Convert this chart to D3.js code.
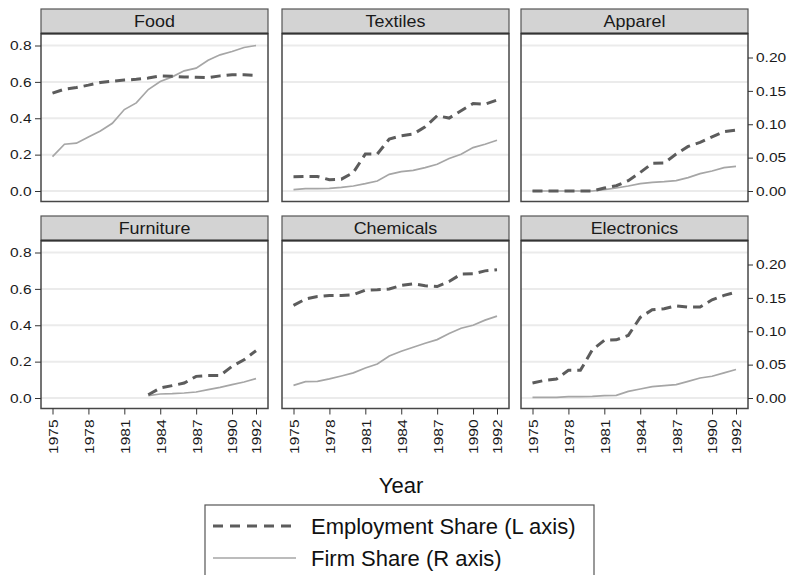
<!DOCTYPE html>
<html><head><meta charset="utf-8">
<script src="https://cdn.jsdelivr.net/npm/d3@7"></script>
<style>body{margin:0;background:#fff}svg{display:block}</style>
</head><body>
<svg id="chart" width="791" height="575"></svg>
<script>
const years = d3.range(1975, 1993);
const panels = ["Food","Textiles","Apparel","Furniture","Chemicals","Electronics"];
const leftTicks = [0, 0.2, 0.4, 0.6, 0.8];
const rightTicks = [0, 0.05, 0.10, 0.15, 0.20];
const xTicks = [1975, 1978, 1981, 1984, 1987, 1990, 1992];

// Employment share (left axis), 1975..1992 (null = missing)
const empFood = [0.538,0.56,0.569,0.582,0.597,0.604,0.61,0.614,0.621,0.633,0.631,0.627,0.625,0.623,0.633,0.639,0.639,0.636];
const empTextiles = [0.079,0.08,0.08,0.062,0.065,0.102,0.203,0.203,0.286,0.304,0.313,0.353,0.414,0.401,0.441,0.481,0.477,0.5];
const empApparel = [0,0,0,0,0,0,0.016,0.029,0.057,0.102,0.152,0.154,0.203,0.245,0.267,0.298,0.327,0.335];
const empFurniture = [null,null,null,null,null,null,null,null,0.018,0.055,0.068,0.082,0.119,0.124,0.124,0.174,0.21,0.26];
const empChemicals = [0.509,0.544,0.558,0.564,0.564,0.568,0.593,0.595,0.599,0.619,0.628,0.617,0.613,0.641,0.681,0.683,0.699,0.705];
const empElectronics = [0.082,0.097,0.104,0.152,0.152,0.265,0.317,0.32,0.344,0.443,0.485,0.491,0.507,0.5,0.5,0.54,0.564,0.582];

// Firm share (right axis)
const firmFood = [0.0516,0.070,0.0716,0.081,0.090,0.1015,0.122,0.132,0.152,0.164,0.171,0.180,0.184,0.196,0.204,0.209,0.215,0.218];
const firmTextiles = [0.002,0.0035,0.0035,0.004,0.0055,0.0075,0.011,0.015,0.025,0.029,0.031,0.035,0.040,0.0487,0.055,0.065,0.070,0.076];
const firmApparel = [0,0,0,0,0,0,0.002,0.0045,0.0075,0.011,0.013,0.014,0.0155,0.020,0.026,0.030,0.035,0.037];
const firmFurniture = [null,null,null,null,null,null,null,null,0.0035,0.006,0.0065,0.0075,0.009,0.0125,0.016,0.020,0.024,0.029];
const firmChemicals = [0.019,0.0246,0.025,0.0287,0.033,0.0377,0.045,0.051,0.063,0.070,0.076,0.082,0.0875,0.0965,0.1045,0.109,0.1166,0.1226];
const firmElectronics = [0.001,0.001,0.001,0.002,0.002,0.0025,0.0035,0.004,0.010,0.0135,0.017,0.0185,0.020,0.025,0.030,0.0326,0.0377,0.0427];

const empSeries = [empFood, empTextiles, empApparel, empFurniture, empChemicals, empElectronics];
const firmSeries = [firmFood, firmTextiles, firmApparel, firmFurniture, firmChemicals, firmElectronics];

const svg = d3.select("#chart");
const colX = [41, 282, 521];
const rowTop = [9, 216];
const W = 227, headH = 24.5, plotH = 168;
const font = "'Liberation Sans', Arial, Helvetica, sans-serif";
const TS = 1.15; // horizontal stretch of tick labels
const HS = 1.1;  // horizontal stretch of panel titles

panels.forEach((name, i) => {
  const col = i % 3, row = Math.floor(i / 3);
  const x0 = colX[col], top = rowTop[row];
  const pTop = top + headH, pBot = pTop + plotH;
  const g = svg.append("g");

  const x = d3.scaleLinear().domain([1975, 1992]).range([x0 + 11.5, x0 + 215]);
  const yL = d3.scaleLinear().domain([0, 0.8]).range([pBot - 10.5, pBot - 10.5 - 145.5]);
  const yR = d3.scaleLinear().domain([0, 0.2]).range([pBot - 10.5, pBot - 10.5 - 133.5]);

  g.selectAll(".grid").data(leftTicks).join("line")
    .attr("x1", x0).attr("x2", x0 + W)
    .attr("y1", d => yL(d)).attr("y2", d => yL(d))
    .attr("stroke", "#ebebeb").attr("stroke-width", 2);

  const lineE = d3.line().defined(d => d[1] != null).x(d => x(d[0])).y(d => yL(d[1]));
  const lineF = d3.line().defined(d => d[1] != null).x(d => x(d[0])).y(d => yR(d[1]));

  g.append("path").datum(years.map((yr, k) => [yr, firmSeries[i][k]]))
    .attr("d", lineF).attr("fill", "none").attr("stroke", "#a6a6a6").attr("stroke-width", 1.7);
  g.append("path").datum(years.map((yr, k) => [yr, empSeries[i][k]]))
    .attr("d", lineE).attr("fill", "none").attr("stroke", "#5c5c5c").attr("stroke-width", 3)
    .attr("stroke-dasharray", "10,6");

  g.append("rect").attr("x", x0).attr("y", pTop).attr("width", W).attr("height", plotH)
    .attr("fill", "none").attr("stroke", "#474747").attr("stroke-width", 1.5);
  g.append("rect").attr("x", x0).attr("y", top).attr("width", W).attr("height", headH)
    .attr("fill", "#d3d3d3").attr("stroke", "#555").attr("stroke-width", 1.2);
  g.append("line").attr("x1", x0).attr("x2", x0 + W).attr("y1", pTop).attr("y2", pTop)
    .attr("stroke", "#333").attr("stroke-width", 2);
  g.append("text").attr("transform", `scale(${HS},1)`)
    .attr("x", (x0 + W / 2) / HS).attr("y", top + 18)
    .attr("text-anchor", "middle").attr("font-family", font).attr("font-size", 16.3)
    .attr("fill", "#1a1a1a").text(name);

  if (col === 0) {
    const ax = g.append("g").attr("transform", `translate(${x0},0)`)
      .call(d3.axisLeft(yL).tickValues(leftTicks).tickFormat(d3.format(".1f")).tickSize(6).tickPadding(3));
    ax.select(".domain").remove();
    ax.selectAll("line").attr("stroke", "#333");
    ax.selectAll("text").attr("font-family", font).attr("font-size", 13.5).attr("fill", "#1a1a1a")
      .attr("transform", `scale(${TS},1)`).attr("x", -9.5 / TS);
  }
  if (col === 2) {
    const ax = g.append("g").attr("transform", `translate(${x0 + W},0)`)
      .call(d3.axisRight(yR).tickValues(rightTicks).tickFormat(d3.format(".2f")).tickSize(5).tickPadding(3));
    ax.select(".domain").remove();
    ax.selectAll("line").attr("stroke", "#333");
    ax.selectAll("text").attr("font-family", font).attr("font-size", 13.5).attr("fill", "#1a1a1a")
      .attr("transform", `scale(${TS},1)`).attr("x", 8 / TS);
  }
  if (row === 1) {
    const ax = g.append("g").attr("transform", `translate(0,${pBot})`)
      .call(d3.axisBottom(x).tickValues(xTicks).tickFormat(d3.format("d")).tickSize(6).tickPadding(3));
    ax.select(".domain").remove();
    ax.selectAll("line").attr("stroke", "#333");
    ax.selectAll("text").attr("font-family", font).attr("font-size", 13.5).attr("fill", "#1a1a1a")
      .attr("transform", `rotate(-90) scale(${TS},1)`).attr("text-anchor", "end")
      .attr("x", -11 / TS).attr("y", 0).attr("dy", "0.36em");
  }
});

svg.append("text").attr("x", 401).attr("y", 493).attr("text-anchor", "middle")
  .attr("font-family", font).attr("font-size", 22).attr("fill", "#111").text("Year");

const legendItems = [
  {label: "Employment Share (L axis)", dash: "10,7", color: "#5c5c5c", w: 3},
  {label: "Firm Share (R axis)", dash: null, color: "#a6a6a6", w: 1.7}
];
const lg = svg.append("g");
lg.append("rect").attr("x", 205).attr("y", 505).attr("width", 389).attr("height", 100)
  .attr("fill", "#fff").attr("stroke", "#555").attr("stroke-width", 1.2);
legendItems.forEach((it, k) => {
  const yy = 526 + k * 32;
  lg.append("line").attr("x1", 213).attr("x2", 296).attr("y1", yy).attr("y2", yy)
    .attr("stroke", it.color).attr("stroke-width", it.w).attr("stroke-dasharray", it.dash);
  lg.append("text").attr("x", 311).attr("y", yy + 8).attr("font-family", font)
    .attr("font-size", 22).attr("fill", "#111").text(it.label);
});
</script>
</body></html>
